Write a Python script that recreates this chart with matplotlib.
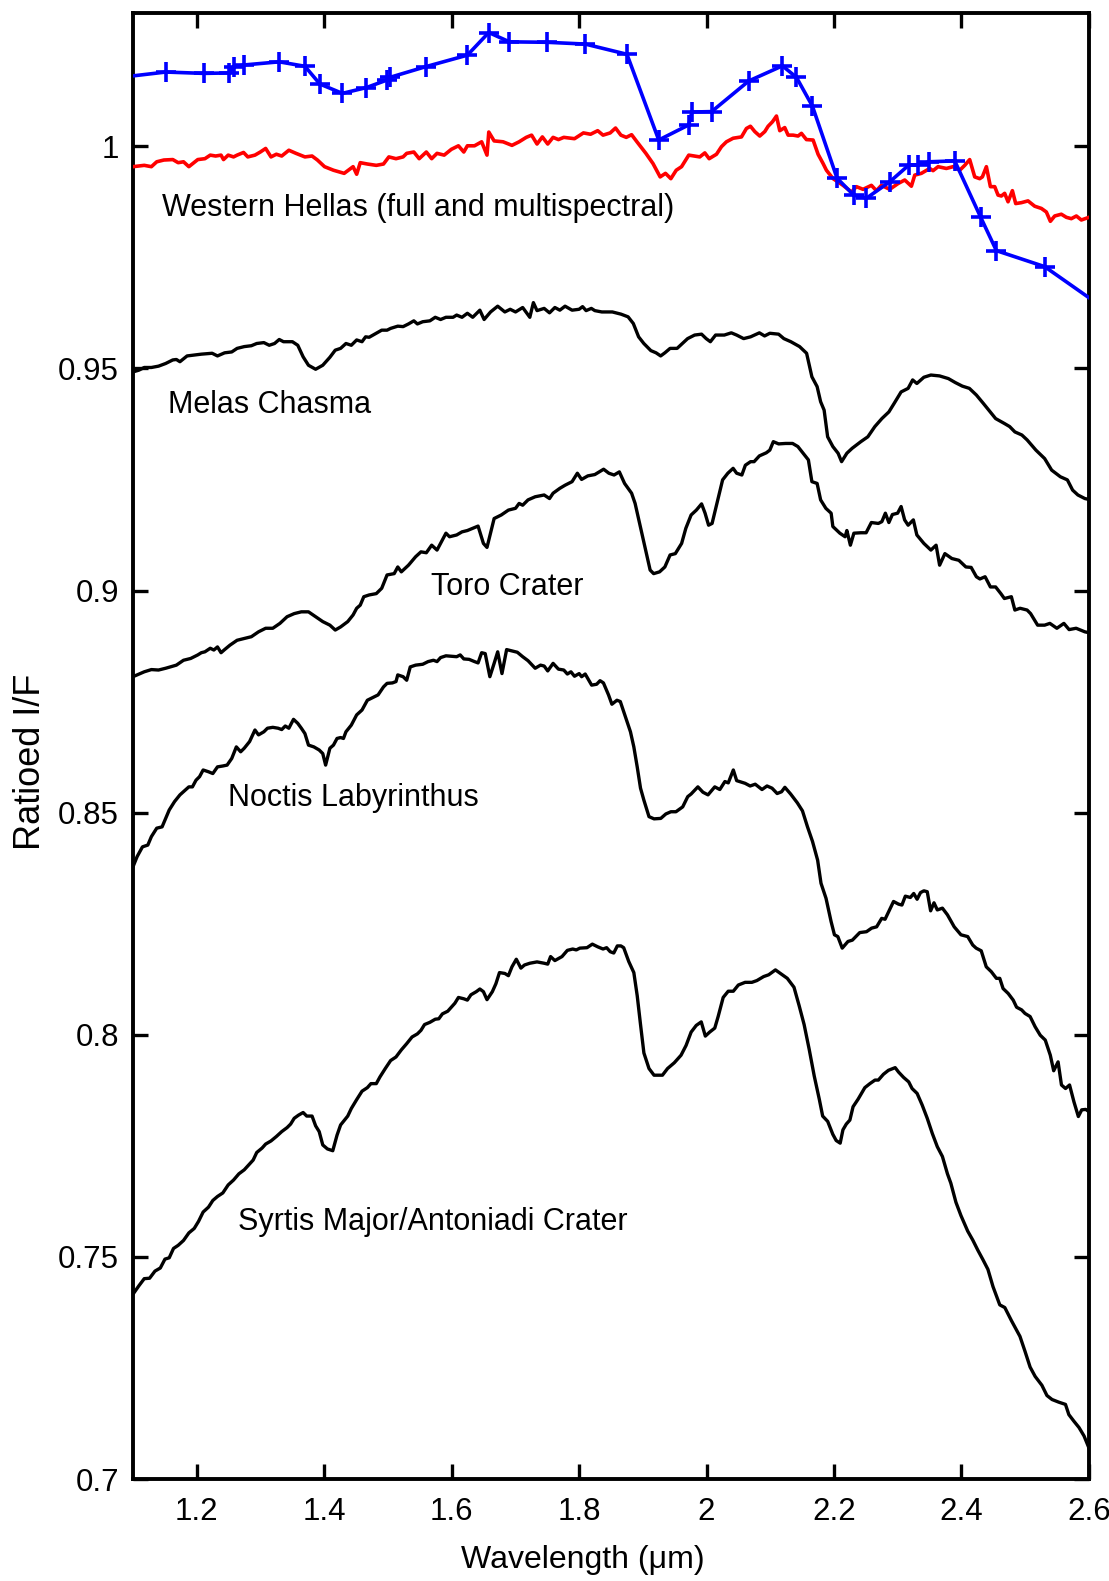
import numpy as np
import matplotlib
matplotlib.use("Agg")
import matplotlib.pyplot as plt

plt.rcParams['font.family'] = ['Liberation Sans', 'DejaVu Sans']

# ---------------- data (wavelength um, ratioed I/F) ----------------
multispectral = [(1.08, 1.0155), (1.1513, 1.0167), (1.2112, 1.0164), (1.2511, 1.0165), (1.2578, 1.0179),
                 (1.2746, 1.0183), (1.3295, 1.0190), (1.3698, 1.0180), (1.3933, 1.0140), (1.4286, 1.0119),
                 (1.4661, 1.0132), (1.4986, 1.0149), (1.5031, 1.0155), (1.5591, 1.0179), (1.6247, 1.0205),
                 (1.6583, 1.0256), (1.6907, 1.0235), (1.7496, 1.0234), (1.8096, 1.0230), (1.8751, 1.0207),
                 (1.925, 1.0014), (1.972, 1.0048), (1.977, 1.0077), (2.008, 1.0078), (2.0663, 1.0147),
                 (2.1191, 1.0181), (2.1411, 1.0155), (2.1662, 1.0090), (2.2048, 0.9928), (2.2310, 0.9890),
                 (2.2509, 0.9883), (2.2875, 0.9920), (2.3177, 0.9958), (2.3318, 0.9958), (2.3491, 0.9965),
                 (2.3894, 0.9967), (2.4302, 0.9840), (2.4548, 0.9765), (2.5306, 0.9729), (2.62, 0.9639)]

hellas_full = [(1.1000,0.9954),(1.1177,0.9957),(1.1289,0.9954),(1.1373,0.9965),(1.1485,0.9969),(1.1625,0.9970),
    (1.1709,0.9963),(1.1793,0.9965),(1.1877,0.9954),(1.2017,0.9970),(1.2129,0.9972),(1.2213,0.9980),(1.2297,0.9978),
    (1.2382,0.9980),(1.2421,0.9970),(1.2494,0.9980),(1.2578,0.9976),(1.2634,0.9980),(1.2735,0.9986),(1.2802,0.9976),
    (1.2914,0.9980),(1.2998,0.9987),(1.3082,0.9995),(1.3166,0.9976),(1.3250,0.9982),(1.3334,0.9978),(1.3446,0.9991),
    (1.3558,0.9984),(1.3698,0.9976),(1.3810,0.9978),(1.3894,0.9969),(1.4006,0.9954),(1.4146,0.9946),(1.4314,0.9939),
    (1.4454,0.9954),(1.4510,0.9937),(1.4566,0.9963),(1.4678,0.9960),(1.4818,0.9957),(1.4931,0.9960),(1.5015,0.9976),
    (1.5127,0.9972),(1.5239,0.9976),(1.5295,0.9984),(1.5407,0.9987),(1.5491,0.9972),(1.5603,0.9987),(1.5687,0.9972),
    (1.5771,0.9984),(1.5883,0.9980),(1.5995,0.9993),(1.6107,1.0001),(1.6191,0.9987),(1.6247,1.0001),(1.6359,1.0001),
    (1.6471,1.0010),(1.6555,0.9980),(1.6583,1.0032),(1.6667,1.0012),(1.6807,1.0010),(1.6947,1.0002),(1.7059,1.0010),
    (1.7171,1.0020),(1.7255,1.0025),(1.7340,1.0005),(1.7424,1.0021),(1.7508,1.0005),(1.7592,1.0020),(1.7676,1.0015),
    (1.7760,1.0020),(1.7928,1.0017),(1.8068,1.0030),(1.8180,1.0027),(1.8292,1.0035),(1.8376,1.0025),(1.8488,1.0030),
    (1.8572,1.0041),(1.8656,1.0025),(1.8740,1.0020),(1.8824,1.0026),(1.8908,1.0010),(1.9048,0.9984),(1.9160,0.9961),
    (1.9272,0.9931),(1.9356,0.9939),(1.9440,0.9927),(1.9524,0.9946),(1.9608,0.9954),(1.9721,0.9980),
    (1.9894,0.9976),(1.9973,0.9985),(2.0041,0.9972),(2.0156,0.9982),(2.0234,0.9999),(2.0312,1.0010),(2.0417,1.0018),
    (2.0548,1.0021),(2.0626,1.0040),(2.0689,1.0045),(2.0757,1.0033),(2.0835,1.0023),(2.0914,1.0033),(2.0966,1.0045),
    (2.1034,1.0055),(2.1097,1.0068),(2.1149,1.0035),(2.1227,1.0042),(2.1280,1.0025),(2.1358,1.0025),(2.1436,1.0023),
    (2.1489,1.0029),(2.1567,1.0015),(2.1672,1.0014),(2.1750,0.9982),(2.1829,0.9961),(2.1881,0.9946),(2.1986,0.9927),
    (2.2142,0.9912),(2.2273,0.9897),(2.2352,0.9909),(2.2456,0.9903),(2.2587,0.9912),(2.2665,0.9900),(2.2744,0.9912),
    (2.2874,0.9903),(2.3005,0.9916),(2.3110,0.9924),(2.3214,0.9910),(2.3267,0.9935),(2.3371,0.9939),(2.3502,0.9950),
    (2.3554,0.9945),(2.3633,0.9954),(2.3763,0.9950),(2.3868,0.9954),(2.3973,0.9946),(2.4051,0.9957),(2.4129,0.9970),
    (2.4208,0.9931),(2.4286,0.9927),(2.4328,0.9931),(2.4391,0.9954),(2.4454,0.9909),(2.4522,0.9909),(2.4574,0.9890),
    (2.4626,0.9888),(2.4678,0.9894),(2.4731,0.9875),(2.4799,0.9900),(2.4851,0.9871),(2.4940,0.9873),(2.5044,0.9877),
    (2.5149,0.9865),(2.5254,0.9860),(2.5332,0.9852),(2.5395,0.9831),(2.5463,0.9843),(2.5567,0.9847),(2.5646,0.9840),
    (2.5724,0.9837),(2.5803,0.9843),(2.5881,0.9834),(2.6000,0.9840)]

melas = [(1.1000,0.9492),(1.1093,0.9496),(1.1177,0.9502),(1.1289,0.9502),(1.1401,0.9505),(1.1513,0.9511),
    (1.1625,0.9519),(1.1681,0.9520),(1.1737,0.9515),(1.1849,0.9528),(1.1961,0.9530),(1.2073,0.9532),(1.2242,0.9534),
    (1.2326,0.9528),(1.2438,0.9535),(1.2550,0.9537),(1.2634,0.9545),(1.2746,0.9549),(1.2858,0.9551),(1.2942,0.9556),
    (1.3054,0.9558),(1.3138,0.9552),(1.3222,0.9556),(1.3295,0.9565),(1.3362,0.9560),(1.3502,0.9560),(1.3586,0.9552),
    (1.3670,0.9526),(1.3754,0.9507),(1.3866,0.9498),(1.3978,0.9507),(1.4090,0.9525),(1.4174,0.9541),(1.4258,0.9545),
    (1.4342,0.9556),(1.4426,0.9552),(1.4510,0.9564),(1.4594,0.9560),(1.4650,0.9571),(1.4706,0.9570),(1.4818,0.9579),
    (1.4903,0.9586),(1.4987,0.9586),(1.5043,0.9590),(1.5155,0.9595),(1.5239,0.9594),(1.5323,0.9600),(1.5407,0.9607),
    (1.5463,0.9600),(1.5547,0.9605),(1.5659,0.9607),(1.5743,0.9615),(1.5827,0.9610),(1.5911,0.9615),(1.6023,0.9615),
    (1.6079,0.9620),(1.6163,0.9615),(1.6247,0.9624),(1.6331,0.9615),(1.6443,0.9631),(1.6510,0.9610),(1.6611,0.9627),
    (1.6723,0.9640),(1.6835,0.9627),(1.6919,0.9633),(1.7003,0.9627),(1.7115,0.9637),(1.7227,0.9615),(1.7283,0.9648),
    (1.7340,0.9630),(1.7452,0.9635),(1.7536,0.9625),(1.7620,0.9637),
    (1.7698,0.9631),(1.7780,0.9640),(1.7890,0.9631),(1.8000,0.9633),(1.8055,0.9639),(1.8110,0.9630),(1.8192,0.9635),
    (1.8247,0.9630),(1.8357,0.9627),(1.8522,0.9627),(1.8659,0.9622),(1.8769,0.9616),(1.8851,0.9601),(1.8934,0.9571),
    (1.9016,0.9556),(1.9126,0.9540),(1.9208,0.9535),(1.9280,0.9528),(1.9346,0.9535),(1.9428,0.9545),(1.9538,0.9545),
    (1.9620,0.9556),(1.9703,0.9567),(1.9813,0.9575),(1.9922,0.9577),(1.9994,0.9567),(2.0060,0.9560),(2.0142,0.9575),
    (2.0279,0.9575),(2.0389,0.9580),(2.0472,0.9575),(2.0582,0.9567),(2.0691,0.9571),(2.0829,0.9580),(2.0911,0.9573),
    (2.0993,0.9579),(2.1131,0.9577),(2.1213,0.9567),(2.1323,0.9560),(2.1460,0.9549),(2.1570,0.9534),(2.1653,0.9481),
    (2.1735,0.9459),(2.1790,0.9425),(2.1845,0.9406),(2.1900,0.9346),(2.1982,0.9324),(2.2064,0.9309),(2.2119,0.9290),
    (2.2202,0.9309),(2.2284,0.9320),(2.2421,0.9335),(2.2531,0.9346),(2.2641,0.9369),(2.2751,0.9387),(2.2861,0.9402),
    (2.2943,0.9421),(2.3053,0.9447),(2.3163,0.9455),(2.3234,0.9474),(2.3300,0.9466),(2.3410,0.9480),(2.3520,0.9485),
    (2.3657,0.9483),(2.3795,0.9477),(2.3904,0.9468),(2.4014,0.9460),(2.4124,0.9455),(2.4234,0.9440),(2.4344,0.9421),
    (2.4536,0.9387),(2.4673,0.9376),(2.4756,0.9369),(2.4838,0.9357),(2.4948,0.9350),(2.5030,0.9339),(2.5168,0.9316),
    (2.5305,0.9297),(2.5415,0.9271),(2.5552,0.9256),(2.5662,0.9249),(2.5744,0.9226),(2.5827,0.9215),(2.5936,0.9207),
    (2.6000,0.9205)]

toro = [(1.1000,0.8806),(1.1177,0.8817),(1.1289,0.8822),(1.1401,0.8821),(1.1513,0.8825),(1.1681,0.8832),
    (1.1793,0.8843),(1.1905,0.8847),(1.2017,0.8855),(1.2073,0.8860),(1.2129,0.8862),(1.2213,0.8870),(1.2269,0.8866),
    (1.2326,0.8873),(1.2382,0.8860),(1.2438,0.8867),(1.2522,0.8877),(1.2634,0.8888),(1.2746,0.8892),(1.2858,0.8896),
    (1.2970,0.8907),(1.3082,0.8915),(1.3194,0.8915),(1.3306,0.8926),(1.3418,0.8941),(1.3530,0.8948),(1.3642,0.8952),
    (1.3754,0.8952),(1.3866,0.8941),(1.3978,0.8930),(1.4090,0.8922),(1.4174,0.8911),(1.4258,0.8918),(1.4370,0.8930),
    (1.4454,0.8945),(1.4510,0.8960),(1.4566,0.8967),(1.4622,0.8986),(1.4706,0.8990),(1.4818,0.8993),(1.4903,0.9005),
    (1.4987,0.9035),(1.5099,0.9038),(1.5155,0.9053),(1.5211,0.9042),(1.5323,0.9057),(1.5435,0.9076),(1.5519,0.9087),
    (1.5603,0.9085),(1.5687,0.9102),(1.5771,0.9091),(1.5827,0.9106),(1.5911,0.9129),(1.5967,0.9121),(1.6079,0.9125),
    (1.6163,0.9132),(1.6247,0.9135),(1.6331,0.9140),(1.6415,0.9145),(1.6499,0.9106),(1.6555,0.9097),(1.6611,0.9129),
    (1.6667,0.9162),(1.6779,0.9170),(1.6891,0.9181),(1.7003,0.9185),(1.7059,0.9196),(1.7115,0.9192),(1.7199,0.9204),
    (1.7311,0.9211),(1.7452,0.9215),(1.7536,0.9207),(1.7592,0.9219),
    (1.7698,0.9230),(1.7780,0.9237),(1.7890,0.9245),(1.7973,0.9264),(1.8039,0.9250),(1.8137,0.9258),(1.8247,0.9261),
    (1.8385,0.9273),(1.8467,0.9264),(1.8549,0.9260),(1.8632,0.9267),(1.8714,0.9241),(1.8824,0.9219),(1.8879,0.9196),
    (1.8961,0.9144),(1.9044,0.9091),(1.9115,0.9046),(1.9170,0.9038),(1.9263,0.9042),(1.9346,0.9053),(1.9428,0.9080),
    (1.9510,0.9083),(1.9609,0.9106),(1.9675,0.9140),(1.9758,0.9170),(1.9840,0.9181),(1.9922,0.9195),(1.9977,0.9174),
    (2.0032,0.9147),(2.0087,0.9151),(2.0170,0.9200),(2.0252,0.9249),(2.0334,0.9264),(2.0417,0.9275),(2.0472,0.9264),
    (2.0554,0.9260),(2.0609,0.9282),(2.0691,0.9290),(2.0746,0.9290),(2.0829,0.9303),(2.0938,0.9310),(2.0993,0.9316),
    (2.1048,0.9335),(2.1131,0.9330),(2.1241,0.9331),(2.1350,0.9331),(2.1433,0.9324),(2.1515,0.9309),(2.1598,0.9294),
    (2.1653,0.9245),(2.1735,0.9241),(2.1790,0.9204),(2.1872,0.9185),(2.1955,0.9174),(2.1982,0.9144),(2.2092,0.9129),
    (2.2174,0.9121),(2.2202,0.9135),(2.2257,0.9102),(2.2312,0.9129),(2.2421,0.9130),(2.2504,0.9130),(2.2586,0.9153),
    (2.2696,0.9151),(2.2751,0.9155),(2.2806,0.9174),(2.2861,0.9153),(2.2916,0.9171),(2.2998,0.9174),(2.3053,0.9189),
    (2.3108,0.9159),(2.3163,0.9147),(2.3245,0.9159),(2.3300,0.9125),(2.3410,0.9106),(2.3520,0.9091),(2.3602,0.9102),
    (2.3657,0.9057),(2.3740,0.9083),(2.3849,0.9072),(2.3959,0.9068),(2.4069,0.9053),(2.4152,0.9052),(2.4234,0.9031),
    (2.4289,0.9026),(2.4371,0.9031),(2.4454,0.9008),(2.4536,0.9008),(2.4618,0.8993),(2.4673,0.8982),(2.4783,0.8986),
    (2.4838,0.8956),(2.4920,0.8960),(2.5030,0.8956),(2.5085,0.8948),(2.5195,0.8922),(2.5305,0.8922),(2.5387,0.8926),
    (2.5497,0.8915),(2.5607,0.8926),(2.5689,0.8912),(2.5799,0.8915),(2.5936,0.8907),(2.6000,0.8905)]

noctis = [(1.1000,0.8378),(1.1065,0.8401),(1.1149,0.8423),(1.1233,0.8427),(1.1289,0.8446),(1.1373,0.8465),
    (1.1457,0.8468),(1.1513,0.8487),(1.1569,0.8506),(1.1653,0.8525),(1.1737,0.8540),(1.1821,0.8551),(1.1877,0.8558),
    (1.1933,0.8558),(1.1989,0.8573),(1.2045,0.8581),(1.2101,0.8596),(1.2185,0.8592),(1.2253,0.8588),(1.2326,0.8603),
    (1.2410,0.8605),(1.2477,0.8607),(1.2550,0.8622),(1.2622,0.8648),(1.2690,0.8637),(1.2746,0.8645),(1.2830,0.8660),
    (1.2914,0.8686),(1.2970,0.8675),(1.3054,0.8682),(1.3110,0.8690),(1.3194,0.8692),(1.3278,0.8690),(1.3334,0.8687),
    (1.3390,0.8695),(1.3446,0.8690),(1.3519,0.8710),(1.3586,0.8701),(1.3642,0.8690),(1.3698,0.8678),(1.3754,0.8652),
    (1.3838,0.8648),(1.3922,0.8641),(1.3978,0.8633),(1.4023,0.8607),(1.4090,0.8645),(1.4146,0.8652),(1.4202,0.8667),
    (1.4258,0.8669),(1.4303,0.8667),(1.4342,0.8682),(1.4426,0.8697),(1.4510,0.8720),(1.4594,0.8731),(1.4678,0.8753),
    (1.4762,0.8759),(1.4846,0.8765),(1.4931,0.8783),(1.4987,0.8791),(1.5071,0.8792),(1.5127,0.8795),(1.5155,0.8810),
    (1.5239,0.8806),(1.5295,0.8798),(1.5351,0.8828),(1.5435,0.8832),(1.5547,0.8834),(1.5631,0.8840),(1.5715,0.8843),
    (1.5771,0.8840),(1.5827,0.8849),(1.5911,0.8853),(1.5995,0.8852),(1.6079,0.8851),(1.6135,0.8855),(1.6191,0.8846),
    (1.6275,0.8845),(1.6359,0.8840),(1.6415,0.8837),(1.6471,0.8860),(1.6527,0.8858),(1.6600,0.8806),(1.6667,0.8836),
    (1.6723,0.8862),(1.6790,0.8813),(1.6863,0.8867),(1.6947,0.8864),(1.7031,0.8861),(1.7115,0.8851),(1.7199,0.8842),
    (1.7311,0.8825),(1.7395,0.8832),(1.7452,0.8830),(1.7508,0.8819),(1.7592,0.8836),(1.7676,0.8823),(1.7760,0.8821),
    (1.7816,0.8812),(1.7872,0.8817),(1.7928,0.8807),(1.8001,0.8813),(1.8040,0.8806),(1.8096,0.8812),
    (1.8197,0.8787),(1.8276,0.8789),(1.8329,0.8797),(1.8382,0.8792),(1.8462,0.8765),(1.8515,0.8744),(1.8594,0.8753),
    (1.8647,0.8750),(1.8726,0.8716),(1.8806,0.8682),(1.8859,0.8648),(1.8912,0.8603),(1.8964,0.8555),(1.9017,0.8528),
    (1.9097,0.8491),(1.9176,0.8486),(1.9282,0.8487),(1.9361,0.8497),(1.9441,0.8502),(1.9520,0.8502),(1.9626,0.8513),
    (1.9705,0.8536),(1.9758,0.8542),(1.9864,0.8558),(1.9943,0.8546),(2.0023,0.8540),(2.0129,0.8558),(2.0208,0.8552),
    (2.0288,0.8570),(2.0341,0.8567),(2.0420,0.8596),(2.0473,0.8572),(2.0605,0.8566),(2.0684,0.8560),(2.0764,0.8564),
    (2.0870,0.8552),(2.0949,0.8560),(2.1028,0.8555),(2.1108,0.8543),(2.1177,0.8547),(2.1229,0.8557),(2.1319,0.8542),
    (2.1425,0.8522),(2.1505,0.8504),(2.1584,0.8468),(2.1663,0.8435),(2.1743,0.8393),(2.1796,0.8341),(2.1875,0.8307),
    (2.1954,0.8255),(2.2007,0.8225),(2.2060,0.8221),(2.2129,0.8195),(2.2219,0.8210),(2.2288,0.8213),(2.2404,0.8230),
    (2.2510,0.8232),(2.2590,0.8240),(2.2669,0.8243),(2.2748,0.8262),(2.2801,0.8260),(2.2870,0.8281),(2.2934,0.8300),
    (2.3013,0.8294),(2.3066,0.8292),(2.3119,0.8312),(2.3198,0.8309),(2.3251,0.8318),(2.3304,0.8305),(2.3357,0.8320),
    (2.3410,0.8324),(2.3463,0.8322),(2.3516,0.8279),(2.3569,0.8297),(2.3621,0.8281),(2.3701,0.8285),(2.3780,0.8270),
    (2.3886,0.8243),(2.3992,0.8225),(2.4098,0.8221),(2.4177,0.8202),(2.4230,0.8195),(2.4310,0.8189),(2.4389,0.8153),
    (2.4468,0.8142),(2.4548,0.8127),(2.4601,0.8127),(2.4653,0.8104),(2.4733,0.8093),(2.4812,0.8078),(2.4865,0.8062),
    (2.4944,0.8056),(2.4997,0.8048),(2.5077,0.8041),(2.5156,0.8018),(2.5236,0.7999),(2.5315,0.7988),(2.5394,0.7954),
    (2.5447,0.7919),(2.5516,0.7939),(2.5569,0.7887),(2.5633,0.7879),(2.5696,0.7887),(2.5765,0.7849),(2.5834,0.7816),
    (2.5887,0.7831),(2.5950,0.7832),(2.6000,0.7827)]

syrtis = [(1.1000,0.7416),(1.1093,0.7435),(1.1177,0.7451),(1.1261,0.7452),(1.1345,0.7468),(1.1429,0.7475),
    (1.1502,0.7495),(1.1569,0.7498),(1.1636,0.7519),(1.1709,0.7526),(1.1793,0.7537),(1.1877,0.7554),(1.1961,0.7564),
    (1.2029,0.7580),(1.2101,0.7601),(1.2185,0.7612),(1.2253,0.7627),(1.2326,0.7636),(1.2410,0.7644),(1.2494,0.7662),
    (1.2578,0.7673),(1.2662,0.7687),(1.2746,0.7696),(1.2830,0.7709),(1.2886,0.7718),(1.2942,0.7735),(1.3026,0.7745),
    (1.3082,0.7754),(1.3166,0.7761),(1.3250,0.7771),(1.3334,0.7782),(1.3418,0.7791),(1.3474,0.7799),(1.3530,0.7812),
    (1.3597,0.7819),(1.3670,0.7825),(1.3726,0.7817),(1.3810,0.7817),(1.3866,0.7795),(1.3922,0.7782),(1.3978,0.7752),
    (1.4051,0.7743),(1.4135,0.7739),(1.4202,0.7774),(1.4258,0.7797),(1.4370,0.7817),(1.4426,0.7834),(1.4510,0.7854),
    (1.4594,0.7873),(1.4678,0.7881),(1.4734,0.7890),(1.4818,0.7890),(1.4875,0.7905),(1.4959,0.7924),(1.5043,0.7942),
    (1.5127,0.7950),(1.5211,0.7966),(1.5295,0.7980),(1.5379,0.7995),(1.5463,0.8002),(1.5519,0.8010),(1.5575,0.8023),
    (1.5659,0.8028),(1.5743,0.8035),(1.5799,0.8036),(1.5855,0.8047),(1.5939,0.8053),(1.5995,0.8062),(1.6051,0.8071),
    (1.6107,0.8084),(1.6191,0.8081),(1.6247,0.8078),(1.6303,0.8090),(1.6387,0.8097),(1.6443,0.8103),(1.6499,0.8097),
    (1.6555,0.8079),(1.6639,0.8097),(1.6695,0.8115),(1.6751,0.8140),(1.6835,0.8138),(1.6891,0.8133),(1.6947,0.8153),
    (1.7015,0.8170),(1.7087,0.8150),(1.7143,0.8157),(1.7227,0.8161),(1.7340,0.8164),(1.7452,0.8161),(1.7508,0.8159),
    (1.7553,0.8176),(1.7620,0.8167),(1.7732,0.8176),(1.7816,0.8190),(1.7900,0.8193),(1.7956,0.8191),(1.8012,0.8195),
    (1.8124,0.8196),(1.8208,0.8204),(1.8292,0.8198),(1.8376,0.8193),(1.8432,0.8196),(1.8488,0.8187),(1.8544,0.8184),
    (1.8600,0.8200),(1.8656,0.8200),
    (1.8700,0.8196),(1.8779,0.8165),(1.8859,0.8140),(1.8912,0.8088),(1.8964,0.8023),(1.9017,0.7959),(1.9097,0.7924),
    (1.9176,0.7909),(1.9308,0.7909),(1.9388,0.7924),(1.9494,0.7937),(1.9600,0.7954),(1.9679,0.7976),(1.9758,0.8006),
    (1.9838,0.8021),(1.9917,0.8029),(1.9981,0.7997),(2.0049,0.8006),(2.0129,0.8015),(2.0182,0.8041),(2.0261,0.8084),
    (2.0340,0.8098),(2.0420,0.8098),(2.0499,0.8112),(2.0605,0.8118),(2.0711,0.8118),(2.0790,0.8122),(2.0896,0.8131),
    (2.0975,0.8135),(2.1081,0.8146),(2.1187,0.8135),(2.1267,0.8127),(2.1372,0.8107),(2.1452,0.8066),(2.1531,0.8023),
    (2.1611,0.7967),(2.1690,0.7907),(2.1769,0.7855),(2.1822,0.7817),(2.1901,0.7805),(2.1981,0.7776),(2.2034,0.7762),
    (2.2097,0.7756),(2.2140,0.7786),(2.2193,0.7799),(2.2249,0.7808),(2.2299,0.7838),(2.2378,0.7855),(2.2484,0.7881),
    (2.2563,0.7890),(2.2643,0.7898),(2.2696,0.7898),(2.2775,0.7911),(2.2854,0.7920),(2.2960,0.7926),(2.3013,0.7916),
    (2.3092,0.7904),(2.3172,0.7894),(2.3225,0.7879),(2.3304,0.7868),(2.3383,0.7842),(2.3463,0.7812),(2.3542,0.7778),
    (2.3621,0.7748),(2.3701,0.7726),(2.3780,0.7687),(2.3833,0.7666),(2.3913,0.7623),(2.3992,0.7593),(2.4098,0.7558),
    (2.4177,0.7538),(2.4257,0.7515),(2.4336,0.7494),(2.4415,0.7472),(2.4495,0.7433),(2.4601,0.7392),(2.4680,0.7386),
    (2.4786,0.7356),(2.4918,0.7321),(2.4998,0.7287),(2.5077,0.7252),(2.5156,0.7231),(2.5262,0.7211),(2.5341,0.7188),
    (2.5421,0.7179),(2.5527,0.7173),(2.5632,0.7168),(2.5685,0.7145),(2.5765,0.7130),(2.5844,0.7116),(2.5923,0.7097),
    (2.6000,0.7070)]

x_ticks = [1.2, 1.4, 1.6, 1.8, 2.0, 2.2, 2.4, 2.6]
x_ticklabels = ['1.2', '1.4', '1.6', '1.8', '2', '2.2', '2.4', '2.6']
y_ticks = [0.7, 0.75, 0.8, 0.85, 0.9, 0.95, 1.0]
y_ticklabels = ['0.7', '0.75', '0.8', '0.85', '0.9', '0.95', '1']

# ---------------- figure ----------------
fig = plt.figure(figsize=(11.09, 15.81), dpi=100)
ax = fig.add_axes([0.1199, 0.0645, 0.8620, 0.9273])

lw = 2.4
for curve in (melas, toro, noctis, syrtis):
    a = np.array(curve)
    ax.plot(a[:, 0], a[:, 1], color='black', lw=lw, zorder=2)

a = np.array(hellas_full)
ax.plot(a[:, 0], a[:, 1], color='#ff0000', lw=2.6, zorder=3)
a = np.array(multispectral)
ax.plot(a[:, 0], a[:, 1], color='#0000ff', lw=2.6, marker='+', ms=14, mew=2.6, zorder=4)

ax.set_xlim(1.1, 2.6)
ax.set_ylim(0.7, 1.03)
ax.set_xticks(x_ticks)
ax.set_xticklabels(x_ticklabels)
ax.set_yticks(y_ticks)
ax.set_yticklabels(y_ticklabels)
ax.tick_params(axis='both', which='major', direction='in', length=11, width=2.4,
               labelsize=22.5, top=True, right=True)
ax.tick_params(axis='x', pad=13)
ax.tick_params(axis='y', pad=10)
for s in ax.spines.values():
    s.set_linewidth(2.8)

ax.set_xlabel('Wavelength (μm)', fontsize=23)
ax.xaxis.set_label_coords(0.4707, -0.045)
ax.set_ylabel('Ratioed I/F', fontsize=26)
ax.yaxis.set_label_coords(-0.089, 0.4894)

fs = 22
ax.text(1.1455, 0.9861, 'Western Hellas (full and multispectral)', fontsize=fs, va='center', ha='left')
ax.text(1.1549, 0.9417, 'Melas Chasma', fontsize=fs, va='center', ha='left')
ax.text(1.5682, 0.9008, 'Toro Crater', fontsize=fs, va='center', ha='left')
ax.text(1.2490, 0.8532, 'Noctis Labyrinthus', fontsize=fs, va='center', ha='left')
ax.text(1.2647, 0.7578, 'Syrtis Major/Antoniadi Crater', fontsize=fs, va='center', ha='left')

fig.savefig('out.png', dpi=100)
